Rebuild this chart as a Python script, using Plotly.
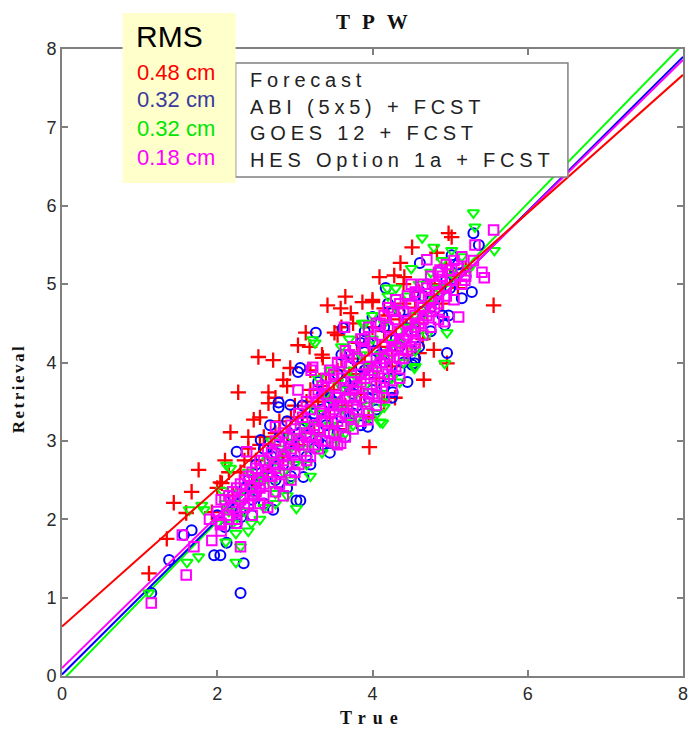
import plotly.graph_objects as go

# Data (True, Retrieval) in cm

series_names = ["Forecast", "ABI (5x5) + FCST", "GOES 12 + FCST", "HES Option 1a + FCST"]
series_colors = ["#ff0000", "#0000ff", "#00ff00", "#ff00ff"]
rms_labels = ["0.48 cm", "0.32 cm", "0.32 cm", "0.18 cm"]
rms_colors = ["#ff0000", "#3a3a9c", "#00e600", "#ff00ff"]

# regression lines, read from where they cross the frame
fit_intercept = [0.63, 0.02, -0.06, 0.10]
fit_slope = [0.88, 0.985, 1.015, 0.97]
line_x = [0, 8]

fcst_pts = [
    (4.36, 5.27), (4.09, 5.09), (4.28, 5.11), (4.41, 5.09), (3.65, 4.84), (3.42, 4.73),
    (3.59, 4.69), (3.87, 4.77), (4.00, 4.77), (3.72, 4.63), (4.15, 4.69), (3.14, 4.38),
    (3.04, 4.22), (3.19, 4.20), (2.53, 4.07), (2.72, 4.03), (3.36, 4.06), (3.51, 4.38),
    (2.27, 3.62), (2.66, 3.62), (2.66, 3.48), (2.17, 3.11), (2.40, 3.05), (1.76, 2.63),
    (1.67, 2.35), (2.04, 2.47), (1.44, 2.21), (1.60, 2.08), (1.35, 1.75), (1.12, 1.31),
    (2.06, 2.46), (1.93, 2.09), (4.51, 5.47), (4.98, 5.65), (5.02, 5.60), (4.83, 5.40),
    (5.56, 4.73), (4.79, 4.16), (4.60, 4.12), (4.96, 3.99), (4.66, 3.78), (3.96, 2.92),
    (4.29, 3.55), (2.47, 3.27), (2.85, 3.78), (2.94, 3.93),
    (2.0, 2.4), (2.1, 2.75), (2.2, 2.3), (2.3, 2.6), (2.4, 2.9), (2.45, 2.45), (2.5, 2.75),
    (2.6, 3.05), (2.65, 2.6), (2.7, 2.95), (2.8, 3.25), (2.85, 2.8), (2.9, 3.1), (3.0, 3.45),
    (3.05, 2.95), (3.1, 3.3), (3.2, 3.65), (3.25, 3.1), (3.3, 3.5), (3.4, 3.85), (3.45, 3.3),
    (3.5, 3.65), (3.6, 4.05), (3.65, 3.45), (3.7, 3.85), (3.8, 4.25), (3.85, 3.6), (3.9, 4.0),
    (4.0, 4.45), (4.05, 3.8), (4.1, 4.2), (4.2, 4.6), (4.25, 3.95), (4.3, 4.35), (4.4, 4.75),
    (4.45, 4.1), (4.5, 4.5), (4.6, 4.9), (4.65, 4.3), (4.7, 4.65), (4.8, 5.0), (4.9, 4.75),
    (5.0, 5.1), (5.1, 4.95), (5.2, 5.2), (3.35, 4.1), (3.55, 4.35), (3.75, 4.5), (2.55, 3.3),
    (2.75, 3.55), (3.95, 3.3), (4.15, 3.5), (3.55, 3.15),
    (2.15, 2.6), (2.35, 2.75), (2.55, 2.95), (2.75, 3.1), (2.95, 3.3), (3.15, 3.5), (3.35, 3.7),
    (3.55, 3.9), (3.75, 4.05), (3.95, 4.2), (4.15, 4.4), (4.35, 4.55), (4.55, 4.7), (4.75, 4.85),
    (4.95, 5.25), (3.2, 3.9), (3.6, 4.45), (4.0, 4.8), (4.4, 5.0), (2.9, 3.7), (3.45, 3.55),
    (3.85, 3.85), (4.25, 4.15), (4.6, 4.5),
]

abi_pts = [
    (2.30, 1.06), (1.15, 1.06), (1.38, 1.48), (1.67, 1.86), (1.57, 1.80), (1.96, 1.54),
    (2.04, 1.54), (2.34, 1.44), (2.12, 1.70), (2.31, 2.03), (2.72, 2.12), (3.02, 2.24),
    (3.11, 2.54), (2.79, 3.43), (2.68, 3.20), (2.56, 3.01), (3.04, 3.88), (2.79, 3.49),
    (2.94, 3.46), (2.25, 2.86), (3.07, 2.24), (3.26, 2.91), (3.27, 4.38), (3.07, 3.93),
    (4.17, 4.95), (4.00, 4.58), (3.62, 4.44), (5.30, 5.65), (5.37, 5.50), (5.02, 5.37),
    (4.61, 5.27), (5.28, 4.90), (5.15, 4.82), (4.98, 4.60), (4.93, 4.48), (4.96, 4.12),
    (4.54, 3.99), (4.26, 3.62), (3.94, 3.18), (4.51, 3.97),
    (2.0, 2.05), (2.1, 1.9), (2.2, 2.3), (2.3, 2.1), (2.4, 2.5), (2.45, 2.25), (2.5, 2.7),
    (2.55, 2.4), (2.6, 2.2), (2.7, 2.8), (2.75, 2.5), (2.8, 3.05), (2.85, 2.7), (2.9, 2.4),
    (3.0, 3.2), (3.0, 2.75), (3.05, 2.95), (3.1, 3.45), (3.15, 3.1), (3.2, 2.7), (3.25, 3.35),
    (3.3, 3.0), (3.35, 3.6), (3.4, 3.2), (3.45, 2.85), (3.5, 3.5), (3.55, 3.85), (3.6, 3.3),
    (3.65, 3.05), (3.7, 3.7), (3.75, 4.05), (3.8, 3.45), (3.85, 3.2), (3.9, 3.9), (3.95, 4.25),
    (4.0, 3.65), (4.05, 3.4), (4.1, 4.1), (4.15, 4.45), (4.2, 3.8), (4.25, 3.55), (4.3, 4.3),
    (4.35, 4.65), (4.4, 4.0), (4.45, 3.75), (4.5, 4.5), (4.55, 4.85), (4.6, 4.2), (4.65, 4.65),
    (4.7, 5.0), (4.75, 4.4), (4.8, 4.8), (4.85, 5.15), (4.9, 4.6), (5.0, 4.95), (5.1, 5.25),
    (5.2, 5.1), (3.3, 3.75), (3.6, 4.1), (3.9, 4.4), (4.2, 4.75), (2.6, 2.9), (2.9, 3.25),
    (2.15, 2.15), (2.35, 2.4), (2.5, 2.45), (2.65, 2.65), (2.75, 2.85), (2.95, 2.95), (3.05, 3.1),
    (3.15, 3.25), (3.25, 3.15), (3.35, 3.4), (3.45, 3.55), (3.55, 3.45), (3.65, 3.75), (3.75, 3.6),
    (3.85, 3.95), (3.95, 3.85), (4.05, 4.15), (4.15, 4.0), (4.25, 4.3), (4.35, 4.2), (4.45, 4.55),
    (4.55, 4.4), (4.65, 4.85), (4.75, 4.7), (4.85, 4.9), (4.95, 5.05), (5.05, 5.1), (3.75, 3.35),
    (3.95, 3.55), (4.15, 3.7), (4.35, 3.9), (4.55, 4.05), (3.35, 2.95), (3.55, 3.1), (3.15, 2.8),
    (2.95, 2.55), (2.45, 2.05), (2.25, 1.95), (3.85, 4.25), (4.05, 4.5),
]

goes_pts = [
    (5.30, 5.91), (5.32, 5.73), (4.64, 5.59), (4.79, 5.47), (5.02, 5.43), (5.57, 5.43),
    (4.96, 4.38), (4.93, 3.99), (4.54, 3.93), (4.19, 4.95), (4.13, 3.23), (4.06, 3.35),
    (4.15, 3.43), (4.10, 3.24), (3.71, 3.23), (3.26, 4.25), (2.12, 2.69), (2.06, 2.37),
    (1.80, 2.18), (1.83, 2.12), (2.24, 1.82), (2.30, 1.65), (2.11, 1.71), (1.76, 1.52),
    (1.61, 1.45), (2.24, 1.45), (1.12, 1.06), (2.44, 1.95), (3.02, 2.14), (2.75, 2.33),
    (2.17, 2.65), (1.64, 2.12), (3.23, 4.29), (3.87, 4.50),
    (2.0, 1.95), (2.1, 2.2), (2.2, 1.95), (2.3, 2.35), (2.35, 2.1), (2.4, 2.6), (2.5, 2.3),
    (2.55, 2.55), (2.6, 2.15), (2.65, 2.75), (2.7, 2.45), (2.8, 2.9), (2.85, 2.6), (2.9, 2.3),
    (2.95, 3.05), (3.0, 2.7), (3.1, 3.2), (3.15, 2.9), (3.2, 2.55), (3.25, 3.4), (3.3, 3.05),
    (3.4, 3.6), (3.45, 3.2), (3.5, 2.95), (3.55, 3.75), (3.6, 3.4), (3.65, 3.1), (3.7, 3.9),
    (3.75, 3.55), (3.8, 3.3), (3.85, 4.1), (3.9, 3.7), (3.95, 3.45), (4.0, 4.3), (4.05, 3.9),
    (4.1, 3.6), (4.15, 4.5), (4.2, 4.05), (4.25, 3.8), (4.3, 4.7), (4.35, 4.25), (4.4, 4.0),
    (4.45, 4.85), (4.5, 4.45), (4.55, 4.15), (4.6, 5.0), (4.65, 4.6), (4.7, 4.35), (4.75, 5.15),
    (4.8, 4.8), (4.9, 5.3), (4.95, 4.95), (5.05, 5.1), (5.15, 5.35), (5.25, 5.2), (3.3, 3.8),
    (3.6, 4.2), (3.9, 4.5), (4.2, 4.85), (2.7, 3.0),
    (2.15, 2.1), (2.3, 2.2), (2.45, 2.45), (2.6, 2.5), (2.75, 2.75), (2.9, 2.85), (3.05, 3.05),
    (3.2, 3.2), (3.35, 3.35), (3.5, 3.5), (3.65, 3.65), (3.8, 3.8), (3.95, 3.95), (4.1, 4.1),
    (4.25, 4.25), (4.4, 4.45), (4.55, 4.6), (4.7, 4.75), (4.85, 4.95), (5.0, 5.15), (3.55, 3.05),
    (3.75, 3.2), (3.95, 3.3), (4.15, 3.5), (4.35, 3.75), (4.55, 3.95), (3.35, 2.85), (3.15, 2.7),
    (2.95, 2.5), (2.75, 2.2), (2.55, 2.0), (2.4, 1.85), (3.45, 3.9), (3.7, 4.3), (4.0, 4.6),
    (4.3, 4.95), (4.5, 5.2),
]

hes_pts = [
    (1.15, 0.93), (1.60, 1.29), (1.93, 1.73), (2.30, 1.65), (2.04, 1.93), (1.70, 1.65),
    (1.55, 1.80), (3.21, 3.90), (3.04, 3.65), (2.75, 3.18), (2.38, 2.86), (3.64, 4.45),
    (3.23, 3.94), (5.56, 5.69), (5.32, 5.50), (5.41, 5.15), (5.44, 5.08), (5.11, 4.58),
    (4.92, 4.52), (4.70, 5.31), (4.87, 5.18), (5.02, 5.18), (5.19, 5.05), (4.55, 4.29),
    (3.94, 3.27), (4.06, 3.56), (3.51, 2.98), (3.59, 2.97),
    (1.9, 2.0), (2.0, 2.1), (2.05, 1.95), (2.1, 2.25), (2.15, 2.05), (2.2, 2.35), (2.2, 2.15),
    (2.25, 2.0), (2.3, 2.45), (2.3, 2.25), (2.35, 2.3), (2.4, 2.55), (2.4, 2.2), (2.45, 2.4),
    (2.5, 2.65), (2.5, 2.35), (2.55, 2.5), (2.6, 2.75), (2.6, 2.45), (2.6, 2.3), (2.65, 2.6),
    (2.7, 2.85), (2.7, 2.55), (2.75, 2.7), (2.8, 2.95), (2.8, 2.6), (2.8, 2.45), (2.85, 2.8),
    (2.9, 3.05), (2.9, 2.7), (2.95, 2.9), (3.0, 3.15), (3.0, 2.85), (3.0, 2.6), (3.05, 3.0),
    (3.1, 3.3), (3.1, 2.95), (3.15, 3.1), (3.2, 3.4), (3.2, 3.05), (3.2, 2.8), (3.25, 3.2),
    (3.3, 3.5), (3.3, 3.15), (3.3, 2.9), (3.35, 3.35), (3.4, 3.6), (3.4, 3.25), (3.4, 3.0),
    (3.45, 3.45), (3.5, 3.7), (3.5, 3.4), (3.5, 3.1), (3.55, 3.55), (3.6, 3.8), (3.6, 3.45),
    (3.6, 3.2), (3.65, 3.65), (3.7, 3.95), (3.7, 3.55), (3.7, 3.3), (3.75, 3.75), (3.8, 4.05),
    (3.8, 3.7), (3.8, 3.4), (3.85, 3.85), (3.9, 4.15), (3.9, 3.8), (3.9, 3.5), (3.95, 3.95),
    (4.0, 4.25), (4.0, 3.9), (4.0, 3.6), (4.05, 4.05), (4.1, 4.35), (4.1, 4.0), (4.1, 3.75),
    (4.15, 4.2), (4.2, 4.45), (4.2, 4.1), (4.2, 3.85), (4.25, 4.3), (4.3, 4.55), (4.3, 4.2),
    (4.3, 3.95), (4.35, 4.4), (4.4, 4.65), (4.4, 4.3), (4.4, 4.05), (4.45, 4.5), (4.5, 4.75),
    (4.5, 4.4), (4.5, 4.2), (4.55, 4.6), (4.6, 4.85), (4.6, 4.5), (4.65, 4.7), (4.7, 4.95),
    (4.7, 4.6), (4.75, 4.8), (4.8, 5.0), (4.8, 4.7), (4.85, 4.9), (4.9, 5.1), (4.95, 4.95),
    (5.0, 5.05), (5.1, 5.2), (5.2, 5.1), (5.3, 5.3), (3.5, 3.85), (3.3, 3.65), (3.7, 4.1),
    (3.9, 4.3), (4.1, 4.5), (4.3, 4.8), (4.5, 5.0), (4.2, 4.7), (3.6, 4.0), (3.4, 3.8),
    (2.05, 1.85), (2.05, 2.25), (2.15, 2.0), (2.15, 2.3), (2.25, 2.1), (2.25, 2.4), (2.25, 1.95),
    (2.35, 2.15), (2.35, 2.5), (2.45, 2.3), (2.45, 2.6), (2.45, 2.05), (2.55, 2.4), (2.55, 2.75),
    (2.55, 2.2), (2.65, 2.55), (2.65, 2.9), (2.65, 2.15), (2.75, 2.65), (2.75, 3.0), (2.75, 2.35),
    (2.85, 2.75), (2.85, 3.1), (2.85, 2.3), (2.95, 2.85), (2.95, 3.2), (2.95, 2.5), (3.05, 2.95),
    (3.05, 3.35), (3.05, 2.7), (3.15, 3.05), (3.15, 3.5), (3.15, 2.75), (3.25, 3.15), (3.25, 3.6),
    (3.25, 2.95), (3.35, 3.25), (3.35, 3.7), (3.35, 3.0), (3.45, 3.35), (3.45, 3.9), (3.45, 3.1),
    (3.55, 3.45), (3.55, 4.0), (3.55, 3.25), (3.55, 2.95), (3.65, 3.55), (3.65, 4.15), (3.65, 3.35),
    (3.65, 3.05), (3.75, 3.65), (3.75, 4.2), (3.75, 3.45), (3.75, 3.15), (3.85, 3.75), (3.85, 4.3),
    (3.85, 3.55), (3.85, 3.25), (3.95, 3.85), (3.95, 4.45), (3.95, 3.6), (3.95, 3.35), (4.05, 3.95),
    (4.05, 4.5), (4.05, 3.7), (4.05, 3.45), (4.15, 4.05), (4.15, 4.6), (4.15, 3.8), (4.15, 3.55),
    (4.25, 4.15), (4.25, 4.65), (4.25, 3.95), (4.25, 3.65), (4.35, 4.25), (4.35, 4.75), (4.35, 4.05),
    (4.35, 3.8), (4.45, 4.35), (4.45, 4.85), (4.45, 4.15), (4.55, 4.45), (4.55, 4.9), (4.55, 4.25),
    (4.65, 4.55), (4.65, 5.0), (4.65, 4.35), (4.75, 4.65), (4.75, 5.1), (4.75, 4.45), (4.85, 4.75),
    (4.85, 5.15), (4.85, 4.55), (4.95, 4.85), (4.95, 5.25), (5.05, 4.8), (5.05, 5.3), (5.15, 5.0),
    (5.15, 5.35),
]

all_pts = [fcst_pts, abi_pts, goes_pts, hes_pts]
symbols = ["cross-thin-open", "circle-open", "triangle-down-open", "square-open"]
sizes = [11, 10, 10, 9.5]

# Figure geometry: the page body puts the figure 8 px in from the window corner,
# so reference pixel positions are shifted by OFF.
OFF = 8
W, H = 697 - OFF, 733 - OFF
L, R, T, B = 62 - OFF, 9, 49 - OFF, 57
PW, PH = W - L - R, H - T - B


def px_x(px):
    return (px - OFF - L) / PW


def px_y(py):
    return (H - B - (py - OFF)) / PH


def fit_line(i):
    return go.Scatter(
        x=line_x, y=[fit_intercept[i] + fit_slope[i] * v for v in line_x], mode="lines",
        line=dict(color=series_colors[i], width=2), showlegend=False,
    )


fig = go.Figure()

# green and blue fits sit under the cloud, magenta and red on top
fig.add_trace(fit_line(2))
fig.add_trace(fit_line(1))

for pts, name, color, sym, size in zip(all_pts, series_names, series_colors, symbols, sizes):
    fig.add_trace(go.Scatter(
        x=[p[0] for p in pts], y=[p[1] for p in pts], mode="markers", name=name,
        marker=dict(symbol=sym, size=size, color=color, line=dict(color=color, width=2.3 if sym.startswith("cross") else 2)),
    ))

fig.add_trace(fit_line(3))
fig.add_trace(fit_line(0))

axis_style = dict(
    range=[0, 8], showline=True, linecolor="#808080", linewidth=2, mirror="ticks",
    ticks="inside", ticklen=6, tickwidth=1.5, tickcolor="#808080", showgrid=False, zeroline=False,
    tickfont=dict(family="Liberation Sans", size=18, color="#2a2a2a"),
)
fig.update_xaxes(dtick=2, **axis_style)
fig.update_yaxes(dtick=1, **axis_style)

ann = []
ann.append(dict(text='<span style="letter-spacing:12px">TPW</span>', x=px_x(381), y=px_y(22), xanchor="center", yanchor="middle",
                font=dict(family="Liberation Serif", size=21, color="#111")))
ann.append(dict(text='<span style="letter-spacing:7px">True</span>', x=px_x(375), y=px_y(718), xanchor="center", yanchor="middle",
                font=dict(family="Liberation Serif", size=18, color="#111")))
ann.append(dict(text='<span style="letter-spacing:2.5px">Retrieval</span>', x=px_x(18), y=px_y(388), xanchor="center", yanchor="middle",
                textangle=-90, font=dict(family="Liberation Serif", size=17, color="#111")))
for a in ann:
    a["text"] = "<b>" + a["text"] + "</b>"

ann.append(dict(text="RMS", x=px_x(135), y=px_y(37), xanchor="left", yanchor="middle",
                font=dict(family="Liberation Sans", size=30, color="#000")))
for lab, col, py in zip(rms_labels, rms_colors, [72, 100, 128, 157]):
    ann.append(dict(text=lab, x=px_x(136), y=px_y(py), xanchor="left", yanchor="middle",
                    font=dict(family="Liberation Sans", size=22, color=col)))
for name, py in zip(series_names, [80, 107, 133, 160]):
    ann.append(dict(text='<span style="letter-spacing:4.8px">' + name + "</span>", x=px_x(250), y=px_y(py),
                    xanchor="left", yanchor="middle", font=dict(family="Liberation Sans", size=20, color="#222")))
for a in ann:
    a.update(xref="paper", yref="paper", showarrow=False)

shapes = [
    dict(type="rect", xref="paper", yref="paper", x0=px_x(237), x1=px_x(572), y0=px_y(177), y1=px_y(63),
         fillcolor="white", line=dict(color="#808080", width=1.5), layer="above"),
    dict(type="rect", xref="paper", yref="paper", x0=px_x(123), x1=px_x(237), y0=px_y(183), y1=px_y(13),
         fillcolor="#ffffcc", line=dict(width=0), layer="above"),
]

fig.update_layout(
    width=W, height=H, margin=dict(l=L, r=R, t=T, b=B),
    paper_bgcolor="white", plot_bgcolor="white", showlegend=False,
    annotations=ann, shapes=shapes,
)

fig.write_html("out.html")
